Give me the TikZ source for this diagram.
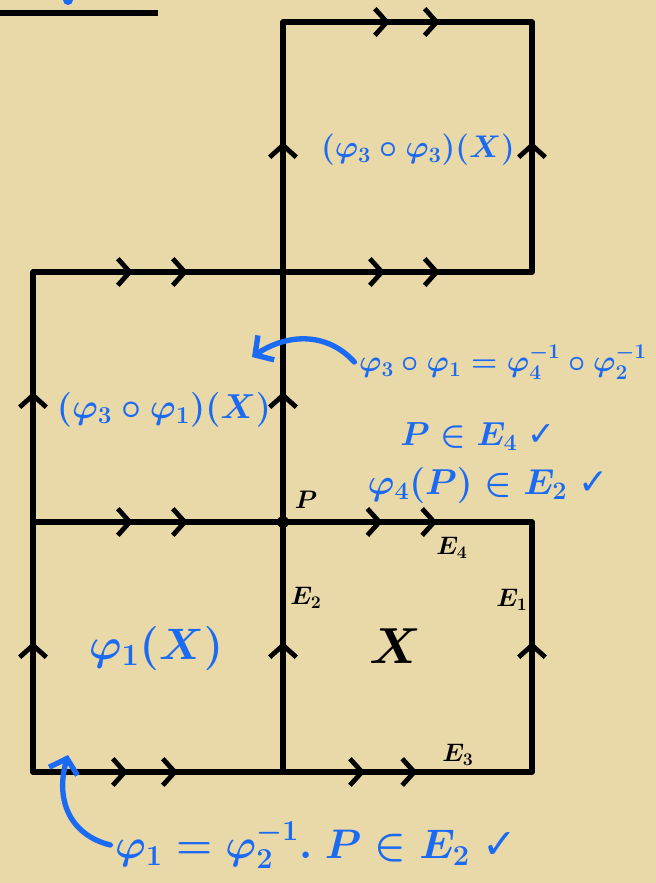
\RequirePackage{fix-cm}
\documentclass[tikz,border=0pt]{standalone}
\usepackage{fontspec}
\usepackage{amsmath}
\newfontfamily\symfont{DejaVu Sans}
\usetikzlibrary{arrows.meta, decorations.markings}

\definecolor{parch}{HTML}{E9D8A8}
\definecolor{ink}{HTML}{1A6AF4}

\tikzset{
  chev/.tip={Straight Barb[length=9pt, width=20pt, line width=3.6pt]},
  edge/.style={line width=4pt, line cap=round},
  rarr/.style 2 args={edge, postaction={decorate, decoration={markings,
      mark=at position #1 with {\arrow{chev}},
      mark=at position #2 with {\arrow{chev}}}}},
  uarr/.style={edge, postaction={decorate, decoration={markings,
      mark=at position 0.52 with {\arrow{chev}}}}},
  blue/.style={text=ink, font=\fontsize{25}{27}\selectfont\boldmath},
  elbl/.style={font=\fontsize{19}{21}\selectfont\boldmath},
  pen/.style={draw=ink, line width=4pt, line cap=round}
}

\begin{document}
\begin{tikzpicture}[x=0.75pt, y=-0.75pt]
    % background
    \fill[parch] (0,0) rectangle (656,883);
    \useasboundingbox (0,0) rectangle (656,883);

    % bits left over at the top
    \draw[line width=4pt] (0,13) -- (158,13);
    \fill[ink] (68,0) circle (5);

    % corners of the squares
    \coordinate (a1) at (33,772);  \coordinate (a2) at (283,772);  \coordinate (a3) at (532,772);
    \coordinate (b1) at (33,522);  \coordinate (P)  at (283,522);  \coordinate (b3) at (532,522);
    \coordinate (c1) at (33,272);  \coordinate (c2) at (283,272);  \coordinate (c3) at (532,272);
    \coordinate (d2) at (283,22);  \coordinate (d3) at (532,22);

    % horizontal edges
    \draw[rarr={0.38}{0.58}] (a1) -- (a2);
    \draw[rarr={0.33}{0.54}] (a2) -- (a3);
    \draw[rarr={0.40}{0.62}] (b1) -- (P);
    \draw[rarr={0.40}{0.62}] (P) -- (b3);
    \draw[rarr={0.40}{0.62}] (c1) -- (c2);
    \draw[rarr={0.41}{0.63}] (c2) -- (c3);
    \draw[rarr={0.43}{0.63}] (d2) -- (d3);

    % vertical edges
    \draw[uarr] (a1) -- (b1);
    \draw[uarr] (b1) -- (c1);
    \draw[uarr] (a2) -- (P);
    \draw[uarr] (P) -- (c2);
    \draw[uarr] (c2) -- (d2);
    \draw[uarr] (a3) -- (b3);
    \draw[uarr] (c3) -- (d3);

    \fill (P) circle (6);

    % black labels
    \node[elbl] (Plbl) at (306,500) {$P$};
    \node[elbl] (E2) at (306,598) {$E_2$};
    \node[elbl] (E1) at (512,600) {$E_1$};
    \node[elbl] (E4) at (452,548) {$E_4$};
    \node[elbl] (E3) at (458,755) {$E_3$};
    \node[font=\fontsize{38}{40}\selectfont\boldmath] (X) at (395,646) {$X$};

    % region names
    \node[blue, font=\fontsize{23.5}{25}\selectfont\boldmath] (topname) at (418,150) {$(\varphi_3\circ\varphi_3)(X)$};
    \node[blue, font=\fontsize{26}{28}\selectfont\boldmath] (midname) at (164,410) {$(\varphi_3\circ\varphi_1)(X)$};
    \node[blue, font=\fontsize{33}{35}\selectfont\boldmath] (botname) at (156,648) {$\varphi_1(X)$};

    % notes
    \node[blue, font=\fontsize{22.5}{24}\selectfont\boldmath] (eqtop) at (503,362) {$\varphi_3\circ\varphi_1=\varphi_4^{-1}\circ\varphi_2^{-1}$};
    \node[blue] (noteA) at (478,437) {$P\in E_4$ {\symfont ✓}};
    \node[blue, font=\fontsize{27}{29}\selectfont\boldmath] (noteB) at (488,485) {$\varphi_4(P)\in E_2$ {\symfont ✓}};
    \node[blue, font=\fontsize{31}{33}\selectfont\boldmath] (eqbot) at (316,845) {$\varphi_1=\varphi_2^{-1}.\ P\in E_2$ {\symfont ✓}};

    % pointers
    \coordinate (tipA) at (252,357);
    \coordinate (tipB) at (68,755);
    \draw[pen, -{Straight Barb[length=10pt, width=22pt]}] (eqtop.west) .. controls (325,330) and (285,335) .. (tipA);
    \draw[pen, -{Straight Barb[length=10pt, width=22pt]}] (eqbot.west) .. controls (70,835) and (55,800) .. (tipB);
\end{tikzpicture}
\end{document}
